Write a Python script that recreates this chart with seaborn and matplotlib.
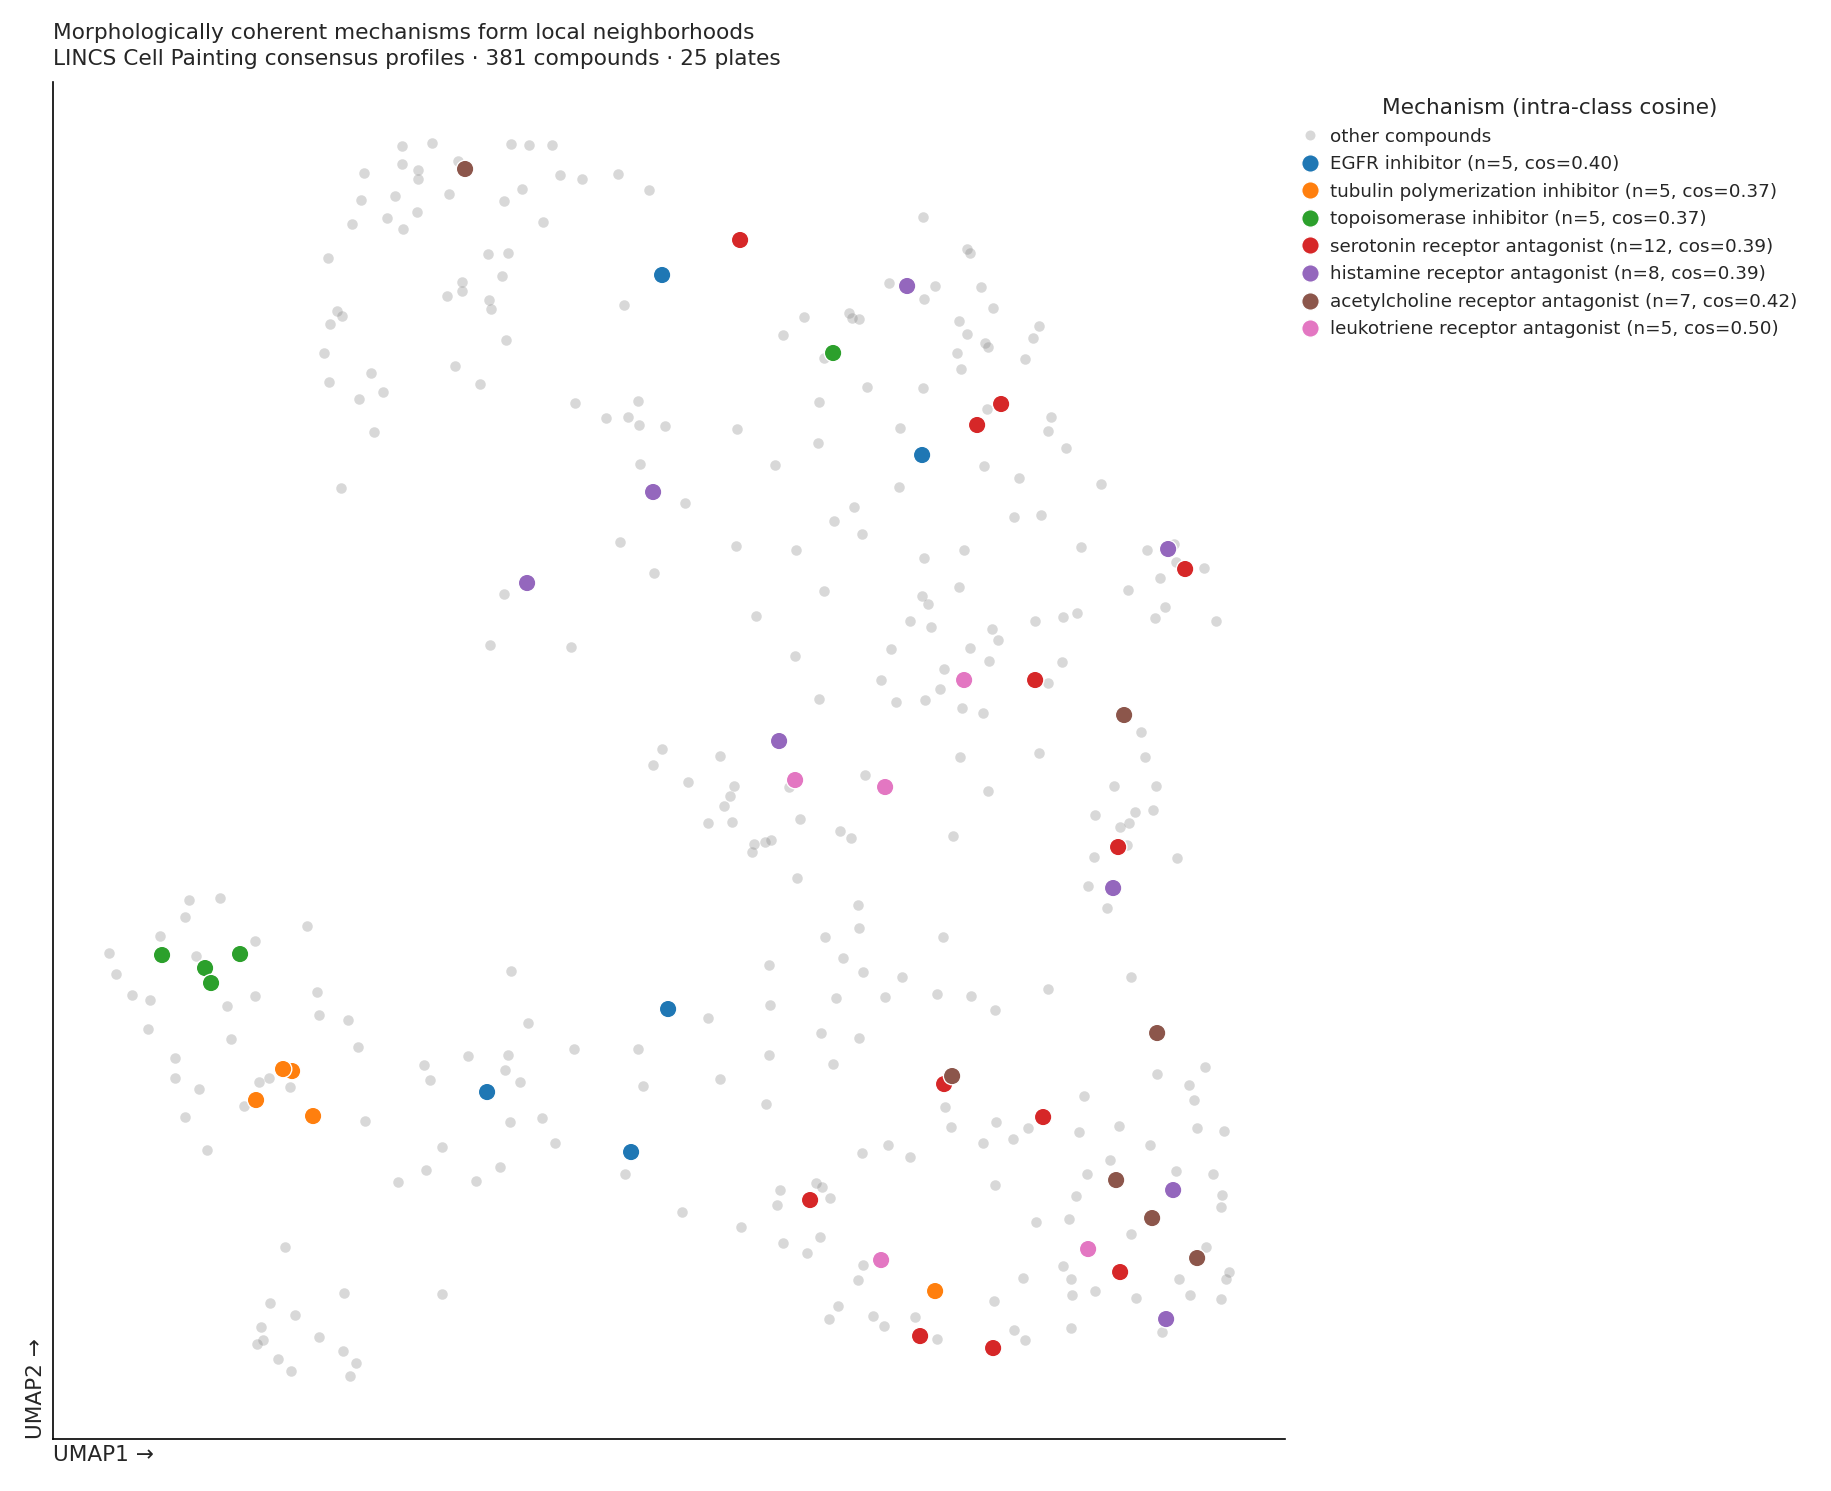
import matplotlib
matplotlib.use("Agg")
import matplotlib.pyplot as plt
from matplotlib.lines import Line2D
import pandas as pd
import seaborn as sns

sns.set_style("white")
plt.rcParams["font.family"] = ["DejaVu Sans"]

# ---------------- data: UMAP embedding of consensus profiles ----------------
n_compounds = 381
n_plates = 25

# compounds without a highlighted mechanism
other_x = [
    4.02, 4.32, 4.58, 3.64, 4.02, 4.18, 4.18, 4.49, 3.61, 3.95,
    4.17, 3.87, 4.03, 3.52, 3.28, 4.62, 4.62, 4.47, 3.37, 3.42,
    3.30, 3.24, 4.55, 4.80, 3.71, 3.29, 3.83, 3.59, 3.74,
    5.11, 5.29, 5.52, 5.60, 5.82, 6.18, 6.49, 5.22, 5.04, 5.43,
    4.88, 5.08, 5.02, 4.89, 4.91, 5.06, 6.24, 8.04, 8.49, 8.52,
    8.59, 7.83, 8.24, 5.75, 6.38, 6.06, 6.28, 6.39, 6.65, 7.37, 8.19, 8.18,
    9.23, 9.67, 9.70, 8.89, 9.35, 9.24, 9.81, 9.93, 9.59, 9.67,
    9.85, 9.88, 10.39, 10.33, 10.25, 9.57, 9.61, 8.67, 9.23, 9.87, 9.00, 10.51, 10.48, 10.66,
    3.41,
    6.40, 7.75, 6.85, 8.54, 8.34, 8.62, 6.20, 7.36, 7.96, 6.54,
    5.04, 8.24, 7.56, 4.90, 5.71, 7.95, 8.19, 6.62, 7.20,
    9.84, 10.19, 11.01, 8.99, 10.14, 10.41, 10.81, 9.24, 9.64, 11.47,
    11.74, 11.76, 12.04, 11.60, 11.28, 9.59, 9.22, 9.28, 9.10, 9.31,
    9.92, 9.98, 10.35, 10.63, 10.77, 11.65, 11.55, 12.16, 8.91, 9.70,
    9.89, 9.44, 8.81, 9.40, 8.96, 9.25, 9.62, 9.83, 10.48, 10.62, 11.41, 9.60, 10.39, 11.45,
    1.89, 2.20, 1.85, 3.07, 1.60, 2.55, 1.09, 1.96, 1.16, 1.32,
    1.50, 2.27, 2.55, 3.17, 3.19, 3.48, 1.48, 2.31, 3.58, 1.75, 4.24, 4.68,
    6.53, 6.88, 7.89, 7.34, 7.30, 7.24, 7.08, 7.32, 8.00, 8.40,
    8.51, 8.65, 7.54, 7.65, 7.71, 7.52, 7.97, 8.58, 8.59, 8.25,
    8.43, 8.63, 7.69, 5.11, 7.08, 7.70, 8.36, 8.21, 8.59, 5.28,
    5.74, 6.38, 5.08, 5.05, 7.69, 8.33,
    9.88, 11.14, 11.56, 10.95, 11.35, 11.53, 11.20, 11.29, 11.27, 10.94,
    11.77, 9.53, 10.88, 11.07, 9.43, 9.02, 8.85, 9.37, 9.71, 9.95, 10.48, 11.31, 12.05,
    1.75, 1.99, 2.59, 2.69, 2.90, 2.44, 1.85, 3.65, 2.07, 4.30,
    4.42, 4.26, 3.98, 4.76, 2.85, 3.44, 4.42, 2.70, 2.95, 2.61,
    2.63, 2.57, 3.19, 3.43, 3.56, 2.78, 2.91, 3.50,
    5.20, 5.10, 5.42, 5.55, 5.00, 6.43, 7.20, 7.66, 6.25, 6.82,
    7.41, 7.80, 7.77, 8.16, 8.22, 8.30, 7.83, 8.20, 8.07, 8.62, 8.63, 8.58, 8.38, 8.29,
    9.45, 9.51, 8.88, 9.10, 9.96, 10.28, 10.13, 9.83, 9.95, 10.36,
    10.84, 10.79, 11.19, 11.50, 11.57, 11.89, 11.94, 11.97, 12.24, 11.10,
    10.87, 11.76, 12.13, 12.22, 12.21, 10.76, 10.69, 11.31, 12.06, 10.63,
    10.71, 10.72, 10.95, 11.36, 11.79, 11.90, 12.29, 12.26, 12.21, 11.62,
    10.71, 10.23, 9.94, 8.73, 8.84, 9.15, 9.37, 10.14, 10.25,
]
other_y = [
    -1.46, -1.43, -1.61, -1.73, -1.64, -1.70, -1.79, -1.94, -2.00, -1.96,
    -2.12, -2.18, -2.29, -2.24, -2.58, -2.82, -2.91, -2.96, -3.11, -3.16,
    -3.24, -3.53, -3.66, -3.84, -3.73, -3.82, -3.92, -3.99, -4.32,
    -1.44, -1.45, -1.45, -1.75, -1.79, -1.74, -1.90, -1.89, -2.01, -2.22,
    -2.54, -2.53, -2.76, -3.00, -3.09, -3.40, -3.05, -3.17, -3.13, -3.18,
    -3.19, -3.35, -3.58, -4.03, -4.01, -4.18, -4.17, -4.25, -4.26, -4.29, -4.02, -4.43,
    -2.17, -2.49, -2.53, -2.83, -2.86, -2.99, -2.87, -3.08, -3.21, -3.34,
    -3.43, -3.47, -3.26, -3.38, -3.59, -3.53, -3.69, -3.87, -3.88, -4.09, -4.28, -4.17, -4.31, -4.48,
    -4.88,
    -4.64, -4.65, -5.03, -5.07, -5.21, -5.34, -5.42, -5.46, -5.50, -5.73,
    -5.94, -5.91, -6.16, -6.45, -6.47, -6.56, -6.99, -7.49, -7.56,
    -4.66, -4.78, -4.84, -4.87, -5.17, -5.15, -5.47, -5.58, -5.50, -5.50,
    -5.44, -5.62, -5.68, -5.78, -5.90, -5.87, -5.96, -6.04, -6.21, -6.27,
    -6.29, -6.40, -6.21, -6.17, -6.13, -6.07, -6.18, -6.21, -6.49, -6.48,
    -6.61, -6.69, -6.80, -6.89, -7.02, -7.00, -7.08, -7.13, -6.83, -6.62, -7.32, -7.57, -7.53, -7.57,
    -9.00, -8.98, -9.17, -9.26, -9.36, -9.41, -9.53, -9.56, -9.74, -9.95,
    -10.00, -10.06, -9.96, -9.92, -10.15, -10.20, -10.29, -10.39, -10.47, -10.58, -10.65, -10.56,
    -7.65, -7.82, -7.87, -7.86, -7.96, -8.06, -8.23, -8.22, -8.19, -8.31,
    -8.38, -7.75, -8.44, -8.42, -8.40, -8.52, -8.78, -9.05, -9.28, -9.37,
    -9.58, -9.72, -9.65, -9.71, -10.18, -10.05, -9.98, -10.33, -10.38, -10.23,
    -10.49, -10.49, -10.55, -10.70, -10.55, -10.64,
    -7.91, -7.86, -7.86, -8.15, -8.12, -8.10, -8.27, -8.23, -8.45, -8.57,
    -8.58, -8.36, -8.86, -9.08, -9.37, -9.77, -9.97, -9.94, -9.96, -10.10, -9.89, -9.77, -10.67,
    -10.78, -10.89, -10.82, -10.78, -10.87, -11.06, -11.17, -11.21, -11.50, -10.80,
    -11.47, -11.70, -11.82, -11.81, -12.47, -12.93, -12.94, -13.03, -13.15, -13.27,
    -13.40, -13.44, -13.37, -13.51, -13.63, -13.59, -13.71, -13.76,
    -10.82, -11.22, -11.18, -11.43, -11.67, -10.86, -10.79, -11.04, -11.74, -12.12,
    -12.27, -11.90, -12.05, -11.83, -11.87, -11.98, -12.43, -12.37, -12.53, -11.53, -12.65, -12.80, -13.06, -13.19,
    -11.07, -11.27, -11.45, -11.57, -11.22, -11.28, -11.39, -11.43, -11.85, -12.22,
    -10.96, -11.32, -11.26, -11.45, -10.74, -10.85, -11.00, -11.28, -11.31, -11.60,
    -11.74, -11.71, -11.74, -11.95, -12.07, -11.96, -12.19, -12.34, -12.47, -12.66,
    -12.79, -12.95, -12.91, -12.98, -12.79, -12.95, -12.72, -12.79, -12.99, -13.32,
    -13.28, -12.78, -13.01, -13.16, -13.26, -13.17, -13.39, -13.30, -13.40,
]

# highlighted mechanisms of action
mechanisms = [
    "EGFR inhibitor",
    "tubulin polymerization inhibitor",
    "topoisomerase inhibitor",
    "serotonin receptor antagonist",
    "histamine receptor antagonist",
    "acetylcholine receptor antagonist",
    "leukotriene receptor antagonist",
]
mech_cos = [0.40, 0.37, 0.37, 0.39, 0.39, 0.42, 0.50]

egfr_x = [6.62, 9.22, 6.68, 4.87, 6.31]
egfr_y = [-2.75, -4.55, -10.09, -10.92, -11.52]
tubulin_x = [2.92, 2.83, 2.56, 3.13, 9.35]
tubulin_y = [-10.71, -10.69, -11.00, -11.16, -12.91]
topo_x = [8.33, 1.62, 2.40, 2.05, 2.11]
topo_y = [-3.53, -9.55, -9.54, -9.68, -9.83]
serotonin_x = [7.40, 10.01, 9.77, 11.85, 10.35, 11.18, 9.44, 10.43, 8.10, 11.20, 9.20, 9.93]
serotonin_y = [-2.40, -4.04, -4.25, -5.69, -6.80, -8.47, -10.84, -11.17, -12.00, -12.72, -13.36, -13.48]
histamine_x = [9.07, 6.53, 5.27, 11.68, 7.79, 11.13, 11.73, 11.66]
histamine_y = [-2.86, -4.92, -5.83, -5.49, -7.41, -8.88, -11.90, -13.19]
acetylcholine_x = [4.65, 11.24, 11.57, 9.52, 11.16, 11.52, 11.97]
acetylcholine_y = [-1.69, -7.15, -10.33, -10.76, -11.80, -12.18, -12.58]
leukotriene_x = [9.64, 7.95, 8.85, 10.88, 8.81]
leukotriene_y = [-6.80, -7.80, -7.87, -12.49, -12.60]

mech_x = [egfr_x, tubulin_x, topo_x, serotonin_x, histamine_x, acetylcholine_x, leukotriene_x]
mech_y = [egfr_y, tubulin_y, topo_y, serotonin_y, histamine_y, acetylcholine_y, leukotriene_y]


def main():
    # long table for the highlighted compounds, label carries n and cosine
    rows = []
    for name, cos, xs, ys in zip(mechanisms, mech_cos, mech_x, mech_y):
        label = f"{name} (n={len(xs)}, cos={cos:.2f})"
        for x, y in zip(xs, ys):
            rows.append({"UMAP1": x, "UMAP2": y, "mechanism": label})
    moa = pd.DataFrame(rows)
    labels = list(dict.fromkeys(moa["mechanism"]))
    palette = dict(zip(labels, sns.color_palette("tab10", len(labels))))

    fig = plt.figure(figsize=(1831 / 120, 1491 / 120), dpi=120)
    ax = fig.add_axes([0.0287, 0.0351, 0.6729, 0.9101])

    # background compounds
    sns.scatterplot(x=other_x, y=other_y, color="grey", alpha=0.3, s=40,
                    linewidth=0, ax=ax, legend=False)
    # mechanism classes on top
    sns.scatterplot(data=moa, x="UMAP1", y="UMAP2", hue="mechanism",
                    hue_order=labels, palette=palette, s=110,
                    edgecolor="white", linewidth=0.8, ax=ax, legend=False)

    ax.set_xlim(0.525, 12.845)
    ax.set_ylim(-14.386, -0.817)
    ax.set_xticks([])
    ax.set_yticks([])
    sns.despine(ax=ax)
    for side in ("left", "bottom"):
        ax.spines[side].set_color("black")
        ax.spines[side].set_linewidth(1.0)

    ax.set_title("Morphologically coherent mechanisms form local neighborhoods\n"
                 f"LINCS Cell Painting consensus profiles · {n_compounds} compounds · {n_plates} plates",
                 loc="left", fontsize=13, linespacing=1.4, pad=10)
    ax.set_xlabel("UMAP1 →", loc="left", fontsize=13)
    ax.set_ylabel("UMAP2 →", loc="bottom", fontsize=13)

    # legend: grey background first, then each mechanism
    handles = [Line2D([], [], linestyle="", marker="o", markersize=6,
                      markerfacecolor="grey", markeredgewidth=0, alpha=0.3,
                      label="other compounds")]
    for lab in labels:
        handles.append(Line2D([], [], linestyle="", marker="o", markersize=10.5,
                              markerfacecolor=palette[lab], markeredgecolor="white",
                              markeredgewidth=0.8, label=lab))
    ax.legend(handles=handles, title="Mechanism (intra-class cosine)",
              loc="upper left", bbox_to_anchor=(1.0, 1.0), frameon=False,
              fontsize=11, title_fontsize=13, handlelength=1.0,
              handletextpad=0.6, labelspacing=0.52)

    fig.savefig("out.png", dpi=120)
    plt.close(fig)


if __name__ == "__main__":
    main()
